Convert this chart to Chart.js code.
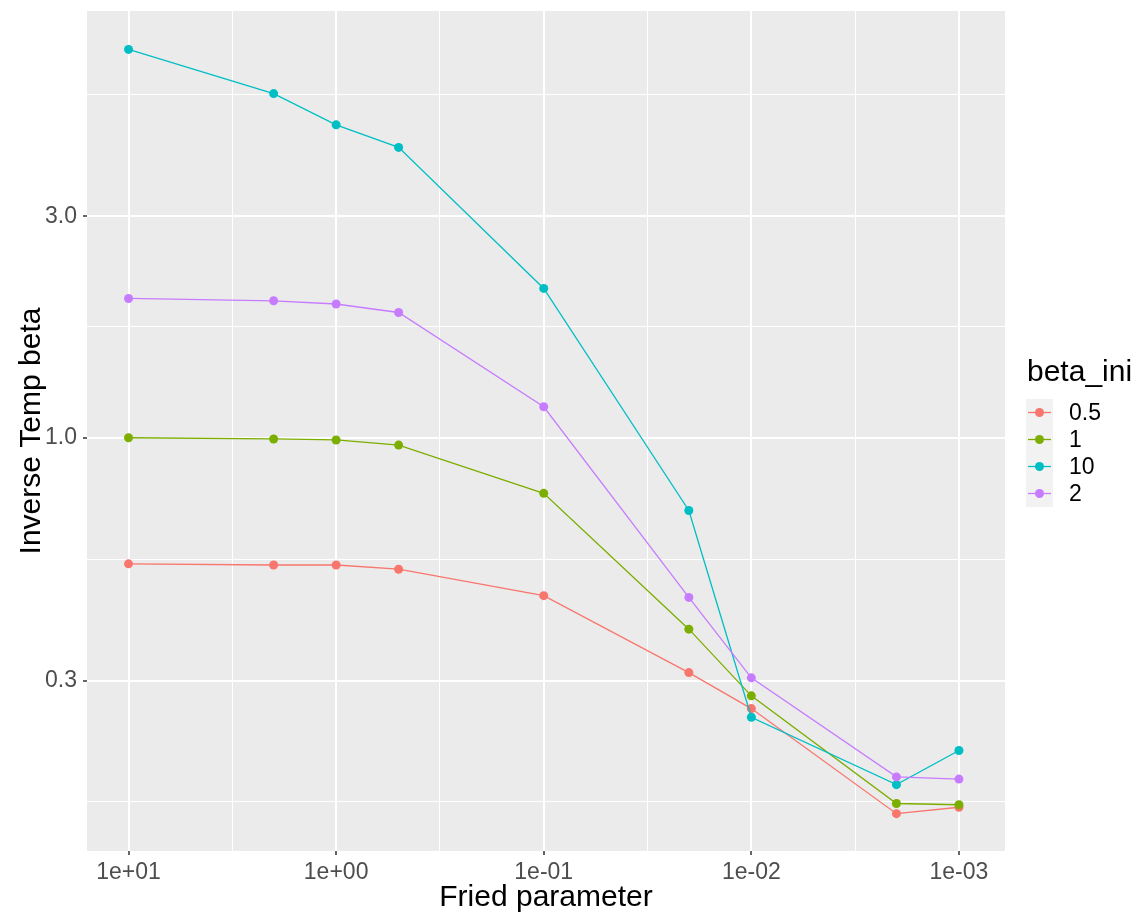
<!DOCTYPE html>
<html>
<head>
<meta charset="utf-8">
<title>Inverse Temp beta</title>
<script src="https://cdn.jsdelivr.net/npm/chart.js@4.4.1/dist/chart.umd.min.js"></script>
<style>
    html, body { margin: 0; padding: 0; background: #ffffff; }
    #contenedor { width: 1141px; height: 913px; }
</style>
</head>
<body>
<div id="contenedor"><canvas id="graficoBeta" width="1141" height="913"></canvas></div>
<script>
// Fried parameter values (x) and the fitted inverse temperature for each beta_ini
const friedParam = [10, 2, 1, 0.5, 0.1, 0.02, 0.01, 0.002, 0.001];
const betaIni = ['0.5', '1', '10', '2'];
const betaIni05 = [0.535, 0.532, 0.532, 0.521, 0.457, 0.312, 0.261, 0.155, 0.160];
const betaIni1 = [1.000, 0.994, 0.989, 0.964, 0.759, 0.387, 0.278, 0.163, 0.162];
const betaIni10 = [6.86, 5.51, 4.72, 4.22, 2.097, 0.697, 0.250, 0.179, 0.212];
const betaIni2 = [1.995, 1.972, 1.941, 1.861, 1.166, 0.453, 0.304, 0.186, 0.184];
const seriesColors = ['#F8766D', '#7CAE00', '#00BFC4', '#C77CFF'];

// Axis breaks (major get labels, minor only grid lines)
const xBreaks = [10, 1, 0.1, 0.01, 0.001];
const xLabels = ['1e+01', '1e+00', '1e-01', '1e-02', '1e-03'];
const xMinor = [3.1623, 0.31623, 0.031623, 0.0031623];
const yBreaks = [0.3, 1, 3];
const yLabels = ['0.3', '1.0', '3.0'];
const yMinor = [0.1643, 0.5477, 1.7321, 5.4772];

const FONT = "'Liberation Sans', Arial, Helvetica, sans-serif";

document.addEventListener('DOMContentLoaded', function() {
    drawChart();
});

function toPoints(values) {
    return friedParam.map((x, i) => ({ x: x, y: values[i] }));
}

function isMajor(ctx, breaks) {
    return ctx.tick && breaks.indexOf(ctx.tick.value) !== -1;
}

// Grey panel behind the plot area
const panelBackground = {
    id: 'panelBackground',
    beforeDraw(chart) {
        const a = chart.chartArea;
        const ctx = chart.ctx;
        ctx.save();
        ctx.fillStyle = '#EBEBEB';
        ctx.fillRect(a.left, a.top, a.right - a.left, a.bottom - a.top);
        ctx.restore();
    }
};

// Legend on the right: title, grey keys with line + point, labels
const sideLegend = {
    id: 'sideLegend',
    afterDraw(chart) {
        const ctx = chart.ctx;
        const datasets = chart.data.datasets;
        const keyLeft = 1026, keyTop = 399, keySize = 27;
        ctx.save();
        ctx.fillStyle = '#000000';
        ctx.font = '30px ' + FONT;
        ctx.textAlign = 'left';
        ctx.textBaseline = 'middle';
        ctx.fillText('beta_ini', 1027, 373);

        ctx.fillStyle = '#F2F2F2';
        ctx.fillRect(keyLeft, keyTop, keySize, keySize * datasets.length);

        datasets.forEach((ds, i) => {
            const cy = keyTop + keySize * i + keySize / 2;
            const cx = keyLeft + keySize / 2;
            ctx.strokeStyle = ds.borderColor;
            ctx.lineWidth = 1.3;
            ctx.beginPath();
            ctx.moveTo(keyLeft + 2, cy);
            ctx.lineTo(keyLeft + keySize - 2, cy);
            ctx.stroke();
            ctx.fillStyle = ds.pointBackgroundColor;
            ctx.beginPath();
            ctx.arc(cx, cy, 4.5, 0, Math.PI * 2);
            ctx.fill();
            ctx.fillStyle = '#000000';
            ctx.font = '23px ' + FONT;
            ctx.fillText(ds.label, 1069, cy + 1);
        });
        ctx.restore();
    }
};

function drawChart() {
    const ctx = document.getElementById('graficoBeta');
    const series = [betaIni05, betaIni1, betaIni10, betaIni2];
    // purple on top, then cyan, green, red
    const drawOrder = [3, 2, 1, 0];

    const datasets = series.map((values, i) => ({
        label: betaIni[i],
        data: toPoints(values),
        borderColor: seriesColors[i],
        backgroundColor: seriesColors[i],
        pointBackgroundColor: seriesColors[i],
        pointBorderWidth: 0,
        pointRadius: 4.5,
        borderWidth: 1.3,
        tension: 0,
        order: drawOrder[i]
    }));

    window.betaChart = new Chart(ctx, {
        type: 'line',
        data: { datasets: datasets },
        plugins: [panelBackground, sideLegend],
        options: {
            responsive: false,
            animation: false,
            devicePixelRatio: 1,
            layout: { padding: { left: 0, top: 11, right: 136, bottom: 0 } },
            plugins: {
                legend: { display: false },
                tooltip: { enabled: false }
            },
            scales: {
                x: {
                    type: 'logarithmic',
                    reverse: true,
                    min: 6.31e-4,
                    max: 15.85,
                    afterBuildTicks(scale) {
                        scale.ticks = xBreaks.concat(xMinor).map(v => ({ value: v }));
                    },
                    afterFit(scale) {
                        scale.height = 62;
                        scale.paddingLeft = 0;
                        scale.paddingRight = 0;
                    },
                    border: { display: false },
                    grid: {
                        color: '#FFFFFF',
                        lineWidth: c => isMajor(c, xBreaks) ? 2 : 1,
                        tickColor: c => isMajor(c, xBreaks) ? '#333333' : 'rgba(0,0,0,0)',
                        tickWidth: 1.5,
                        tickLength: 4
                    },
                    ticks: {
                        autoSkip: false,
                        maxRotation: 0,
                        padding: 4,
                        color: '#4D4D4D',
                        font: { family: FONT, size: 23 },
                        callback: function(value) {
                            const k = xBreaks.indexOf(value);
                            return k === -1 ? '' : xLabels[k];
                        }
                    },
                    title: {
                        display: true,
                        text: 'Fried parameter',
                        color: '#000000',
                        font: { family: FONT, size: 30, lineHeight: 1 },
                        padding: { top: 0, bottom: 0 }
                    }
                },
                y: {
                    type: 'logarithmic',
                    min: 0.1288,
                    max: 8.30,
                    afterBuildTicks(scale) {
                        scale.ticks = yMinor.concat(yBreaks).sort((a, b) => a - b).map(v => ({ value: v }));
                    },
                    afterFit(scale) {
                        scale.width = 87;
                        scale.paddingTop = 0;
                        scale.paddingBottom = 0;
                    },
                    border: { display: false },
                    grid: {
                        color: '#FFFFFF',
                        lineWidth: c => isMajor(c, yBreaks) ? 2 : 1,
                        tickColor: c => isMajor(c, yBreaks) ? '#333333' : 'rgba(0,0,0,0)',
                        tickWidth: 1.5,
                        tickLength: 4
                    },
                    ticks: {
                        autoSkip: false,
                        padding: 6,
                        color: '#4D4D4D',
                        font: { family: FONT, size: 23 },
                        callback: function(value) {
                            const k = yBreaks.indexOf(value);
                            return k === -1 ? '' : yLabels[k];
                        }
                    },
                    title: {
                        display: true,
                        text: 'Inverse Temp beta',
                        color: '#000000',
                        font: { family: FONT, size: 30, lineHeight: 1.2 },
                        padding: { top: 14, bottom: 0 }
                    }
                }
            }
        }
    });
}
</script>
</body>
</html>
